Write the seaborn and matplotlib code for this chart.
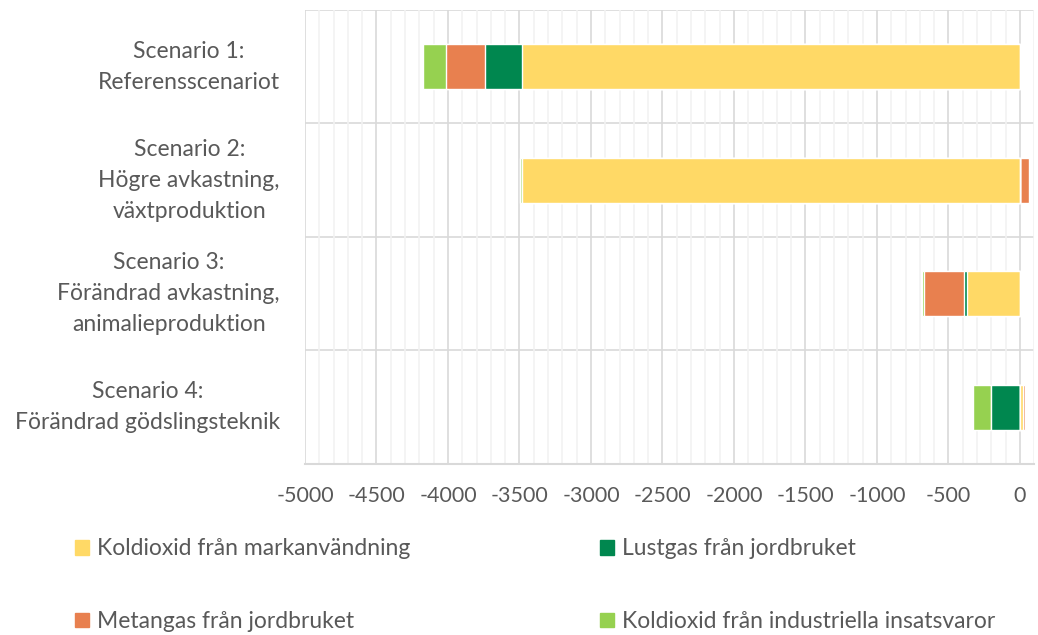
import numpy as np
import pandas as pd
import matplotlib
matplotlib.use("Agg")
import matplotlib.pyplot as plt
from matplotlib.patches import Patch
import seaborn as sns

# categories (top to bottom) and the four emission series
scenarios = ["Scenario 1:\nReferensscenariot",
             "Scenario 2:\nHögre avkastning,\nväxtproduktion",
             "Scenario 3:\nFörändrad avkastning,\nanimalieproduktion",
             "Scenario 4:\nFörändrad gödslingsteknik"]
series = ["Koldioxid från markanvändning", "Lustgas från jordbruket",
          "Metangas från jordbruket", "Koldioxid från industriella insatsvaror"]
markanv = [-3480, -3480, -370, 22]
lustgas = [-260, 0, -20, -205]
metan = [-275, 65, -280, 12]
industri = [-160, -15, -14, -125]
colors = ["#FFD966", "#00874F", "#E8804F", "#96D150"]

df = pd.DataFrame({"scenario": scenarios, series[0]: markanv, series[1]: lustgas,
                   series[2]: metan, series[3]: industri})

sns.set_style("white")
plt.rcParams["font.family"] = ["Lato", "DejaVu Sans"]
txt = "#595959"

fig = plt.figure(figsize=(10.38, 6.35), dpi=100)
ax = fig.add_axes([0.2938, 0.2693, 0.7026, 0.715])

# stack negatives and positives separately, then overlay cumulative totals (outermost first)
vals = df[series].to_numpy(dtype=float)
neg = np.cumsum(np.where(vals < 0, vals, 0), axis=1)
pos = np.cumsum(np.where(vals > 0, vals, 0), axis=1)
for i in reversed(range(len(series))):
    for cum in (neg, pos):
        sns.barplot(x=cum[:, i], y=df["scenario"], orient="h", color=colors[i],
                    saturation=1, width=0.4, ax=ax, order=scenarios)

ax.set_xlim(-5000, 100)
ax.set_ylim(3.5, -0.5)
ax.set_xticks(np.arange(-5000, 1, 500))
ax.set_xticks(np.arange(-5000, 101, 100), minor=True)
ax.xaxis.grid(True, which="minor", color="#F2F2F2", lw=1.2)
ax.xaxis.grid(True, which="major", color="#D9D9D9", lw=1.2)
ax.set_axisbelow(True)
for yb in [-0.5, 0.5, 1.5, 2.5]:
    ax.axhline(yb, color="#D9D9D9", lw=1.2, zorder=0)
for s in ["top", "right", "left"]:
    ax.spines[s].set_visible(False)
ax.spines["bottom"].set_color("#D9D9D9")
ax.spines["bottom"].set_linewidth(1.5)

ax.set_xlabel("")
ax.set_ylabel("")
ax.set_xticklabels([str(v) for v in range(-5000, 1, 500)])
ax.tick_params(axis="x", which="both", length=0, labelsize=15.5, labelcolor=txt, pad=16)
ax.tick_params(axis="y", length=0, labelsize=16.5, labelcolor=txt, pad=18)
ax.set_yticks(range(len(scenarios)))
ax.set_yticklabels(scenarios, ha="right", va="center", multialignment="center",
                   linespacing=1.6)

handles = [Patch(color=colors[i]) for i in [0, 2, 1, 3]]
labels = [series[i] for i in [0, 2, 1, 3]]
fig.legend(handles, labels, ncol=2, loc="upper left", bbox_to_anchor=(0.0634, 0.1665),
           frameon=False, fontsize=16.5, labelcolor=txt, handlelength=0.6,
           handleheight=0.6, handletextpad=0.35, labelspacing=2.25, columnspacing=8.3,
           borderaxespad=0)

fig.savefig("out.png", dpi=100)
